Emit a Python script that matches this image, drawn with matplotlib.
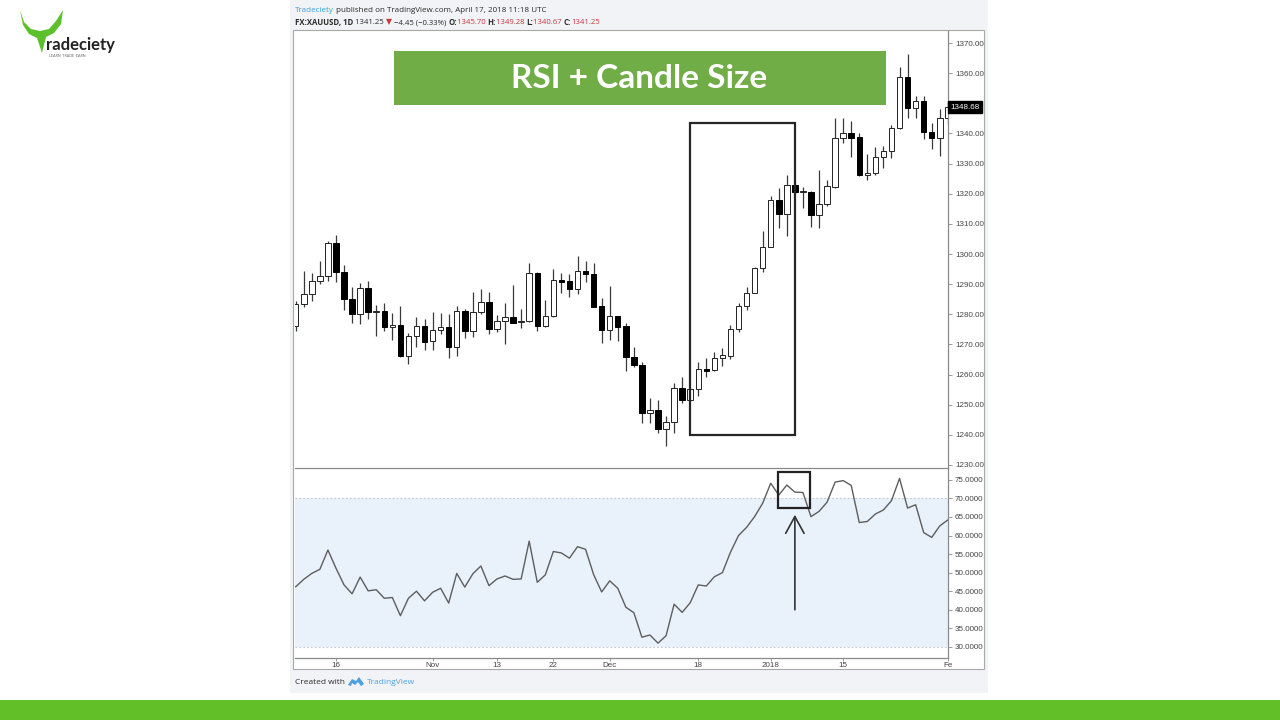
import matplotlib
matplotlib.use("Agg")
import matplotlib.pyplot as plt
from matplotlib.patches import Rectangle, Polygon
import numpy as np

# ---------------- data ----------------
opens = [1276.0, 1283.4, 1286.8, 1290.9, 1292.8, 1303.6, 1294.2, 1285.2, 1280.0, 1288.6,
         1280.6, 1281.1, 1275.8, 1276.5, 1266.0, 1272.9, 1276.2, 1271.2, 1274.8, 1275.9,
         1269.1, 1281.2, 1274.3, 1280.6, 1284.2, 1275.0, 1277.7, 1279.2, 1277.3, 1277.7,
         1293.8, 1276.1, 1279.5, 1291.5, 1291.0, 1288.4, 1294.4, 1293.5, 1282.7, 1274.8,
         1279.4, 1276.1, 1265.8, 1263.2, 1247.1, 1248.3, 1242.0, 1244.2, 1255.4, 1251.6,
         1255.1, 1261.9, 1261.5, 1265.4, 1266.3, 1275.0, 1282.9, 1287.2, 1295.2, 1302.4,
         1317.9, 1313.2, 1322.9, 1320.6, 1320.7, 1312.9, 1316.7, 1322.4, 1338.6, 1340.3,
         1338.7, 1326.2, 1327.0, 1332.1, 1334.2, 1341.7, 1358.8, 1348.3, 1350.9, 1340.4,
         1338.6, 1345.2]
highs = [1284.5, 1294.5, 1293.8, 1297.7, 1304.2, 1306.3, 1296.4, 1289.0, 1290.5, 1291.2,
         1283.1, 1283.7, 1280.3, 1282.6, 1273.9, 1279.0, 1278.4, 1280.9, 1280.3, 1280.1,
         1282.8, 1281.7, 1287.5, 1288.3, 1287.3, 1279.7, 1283.6, 1289.7, 1281.9, 1297.1,
         1294.0, 1284.9, 1295.0, 1293.8, 1293.3, 1299.4, 1297.6, 1296.9, 1285.5, 1289.4,
         1279.6, 1277.0, 1269.2, 1264.3, 1252.1, 1251.4, 1246.3, 1257.1, 1259.1, 1255.4,
         1264.1, 1265.4, 1267.6, 1268.7, 1276.4, 1283.6, 1289.2, 1295.6, 1307.7, 1319.3,
         1321.8, 1326.3, 1323.5, 1322.4, 1320.9, 1328.0, 1324.4, 1345.0, 1345.0, 1344.2,
         1340.0, 1333.2, 1335.4, 1335.8, 1342.8, 1362.2, 1366.4, 1352.5, 1352.4, 1343.4,
         1348.0, 1350.5]
lows = [1274.5, 1282.3, 1284.5, 1290.1, 1290.9, 1290.6, 1281.5, 1277.0, 1276.8, 1278.4,
        1272.8, 1274.3, 1271.5, 1265.8, 1263.4, 1269.1, 1268.0, 1268.2, 1273.5, 1265.4,
        1266.0, 1272.0, 1272.4, 1280.1, 1273.6, 1274.2, 1270.1, 1277.0, 1275.3, 1277.5,
        1274.4, 1275.9, 1279.2, 1287.1, 1285.8, 1286.9, 1290.8, 1282.3, 1270.5, 1271.4,
        1271.2, 1261.3, 1262.4, 1243.8, 1243.8, 1240.5, 1236.4, 1240.5, 1250.7, 1251.3,
        1252.9, 1259.3, 1261.3, 1262.9, 1265.2, 1274.0, 1281.4, 1287.0, 1294.2, 1302.2,
        1308.5, 1306.0, 1320.0, 1315.2, 1309.1, 1308.5, 1316.0, 1321.8, 1336.7, 1332.3,
        1326.0, 1324.5, 1326.2, 1328.7, 1331.7, 1341.4, 1345.0, 1345.0, 1338.0, 1334.7,
        1332.5, 1343.0]
closes = [1283.4, 1286.8, 1290.9, 1292.8, 1303.8, 1294.2, 1285.1, 1280.0, 1288.6, 1280.6,
          1281.2, 1275.7, 1276.5, 1266.0, 1272.8, 1276.1, 1270.9, 1274.8, 1275.9, 1269.1,
          1281.2, 1274.3, 1280.6, 1284.2, 1275.0, 1277.7, 1279.2, 1277.2, 1277.7, 1293.8,
          1276.1, 1279.5, 1291.3, 1290.8, 1288.4, 1294.4, 1293.3, 1282.5, 1274.8, 1279.4,
          1275.9, 1265.8, 1263.2, 1247.1, 1248.3, 1242.0, 1244.2, 1255.4, 1251.6, 1255.1,
          1261.7, 1261.3, 1265.4, 1266.5, 1275.0, 1282.9, 1287.2, 1295.2, 1302.4, 1317.9,
          1313.2, 1322.8, 1320.6, 1320.8, 1312.9, 1316.7, 1322.6, 1338.6, 1340.3, 1338.6,
          1326.2, 1327.0, 1332.1, 1334.2, 1341.7, 1358.8, 1348.3, 1350.9, 1340.4, 1338.6,
          1345.2, 1348.7]
rsi = [46.2, 48.2, 49.8, 50.9, 56.1, 51.2, 46.7, 44.3, 48.8, 45.1,
       45.4, 43.1, 43.3, 38.4, 43.1, 45.0, 42.4, 44.7, 45.8, 41.8,
       49.8, 46.1, 49.7, 51.8, 46.5, 48.3, 49.1, 48.2, 48.3, 58.5,
       47.4, 49.4, 55.7, 55.3, 53.9, 57.0, 56.3, 49.5, 44.8, 47.8,
       45.8, 40.7, 39.2, 32.6, 33.2, 31.0, 33.0, 41.5, 39.3, 41.9,
       46.7, 46.4, 48.9, 50.0, 55.5, 60.0, 62.2, 65.1, 68.7, 74.1,
       70.9, 73.6, 71.7, 71.6, 65.1, 66.5, 69.0, 74.4, 74.8, 73.5,
       63.5, 63.8, 65.8, 66.9, 69.4, 75.4, 67.4, 68.3, 60.8, 59.5,
       62.6, 64.2]
date_tick_pos = [5, 17, 25, 32, 39, 50, 59, 68, 81]
date_tick_labels = ["16", "Nov", "13", "22", "Dec", "18", "2018", "15", "Fe"]
price_ticks = list(range(1230, 1371, 10))
rsi_ticks = [30, 35, 40, 45, 50, 55, 60, 65, 70, 75]
last_price = 1348.68

# ---------------- layout helpers ----------------
W, H = 1280, 720
def fx(px): return px / W
def fy(py): return 1 - py / H

fig = plt.figure(figsize=(12.8, 7.2), dpi=100)
fig.patch.set_facecolor("white")

# outer light panel and white chart box (behind the axes)
fig.patches.append(Rectangle((fx(290), fy(693)), 698 / W, 693 / H, transform=fig.transFigure,
                             facecolor="#f1f3f6", edgecolor="none", zorder=-3))
fig.patches.append(Rectangle((fx(293), fy(669)), 691 / W, 639 / H, transform=fig.transFigure,
                             facecolor="white", edgecolor="#a8a8a8", lw=0.8, zorder=-2))
fig.patches.append(Rectangle((0, 0), 1, 20 / H, transform=fig.transFigure,
                             facecolor="#62bf28", edgecolor="none", zorder=-2))

TICKFONT = ["Liberation Sans", "DejaVu Sans"]
axcol = "#8a8a8a"

ax1 = fig.add_axes([fx(295), fy(468), (948 - 295) / W, (468 - 31) / H])
ax2 = fig.add_axes([fx(295), fy(658), (948 - 295) / W, (658 - 468) / H])
for ax in (ax1, ax2):
    ax.set_facecolor("none")
    ax.set_xlim(-0.09, 81.02)
    for s in ("left", "top"):
        ax.spines[s].set_visible(False)
    for s in ("right", "bottom"):
        ax.spines[s].set_color(axcol)
        ax.spines[s].set_linewidth(0.9)
    ax.yaxis.tick_right()
    ax.tick_params(axis="both", which="both", length=3, width=0.6, color=axcol,
                   labelsize=5.8, labelcolor="#444", pad=2)

# ---------------- candles ----------------
x = np.arange(len(opens))
o = np.array(opens); c = np.array(closes); h = np.array(highs); l = np.array(lows)
up = c >= o
ax1.vlines(x, l, h, color="#3a3a3a", lw=0.9, zorder=2)
bottoms = np.minimum(o, c)
heights = np.maximum(np.abs(c - o), 0.35)
ax1.bar(x[up], heights[up], bottom=bottoms[up], width=0.68, facecolor="white",
        edgecolor="#222222", linewidth=0.7, zorder=3)
ax1.bar(x[~up], heights[~up], bottom=bottoms[~up], width=0.68, facecolor="black",
        edgecolor="black", linewidth=0.7, zorder=3)
ax1.set_ylim(1229, 1374)
ax1.set_yticks(price_ticks)
# the 1350.00 label sits under the last-price marker in the reference
ax1.set_yticklabels(["" if v == 1350 else f"{v:.2f}" for v in price_ticks], family=TICKFONT)
ax1.set_xticks([])
ax1.add_patch(Rectangle((48.98, 1239.9), 62.02 - 48.98, 1343.5 - 1239.9, fill=False,
                        edgecolor="#262626", lw=1.6, zorder=5))
ax1.text(1.003, last_price, f"{last_price:.2f}", transform=ax1.get_yaxis_transform(),
         ha="left", va="center", fontsize=5.8, color="white", family=TICKFONT,
         bbox=dict(boxstyle="square,pad=0.3", facecolor="black", edgecolor="black"),
         clip_on=False, zorder=6)

# ---------------- RSI ----------------
ax2.axhspan(30, 70, facecolor="#e9f1fb", edgecolor="none", zorder=0)
ax2.axhline(30, color="#c4c8cc", lw=0.8, ls=(0, (1.5, 2)), zorder=1)
ax2.axhline(70, color="#c4c8cc", lw=0.8, ls=(0, (1.5, 2)), zorder=1)
ax2.plot(x, rsi, color="#5e5e5e", lw=1.0, zorder=3)
ax2.set_ylim(27.0, 78.2)
ax2.set_yticks(rsi_ticks)
ax2.set_yticklabels([f"{v:.4f}" for v in rsi_ticks], family=TICKFONT)
ax2.set_xticks(date_tick_pos)
ax2.set_xticklabels(date_tick_labels, family=TICKFONT)
ax2.tick_params(axis="x", length=2, pad=1)
ax2.add_patch(Rectangle((59.87, 67.4), 63.88 - 59.87, 77.0 - 67.4, fill=False,
                        edgecolor="#222222", lw=1.6, zorder=5))
ax2.annotate("", xy=(62.0, 65.6), xytext=(62.0, 40.0),
             arrowprops=dict(arrowstyle="->,head_length=0.55,head_width=0.3",
                             color="#333333", lw=1.2, mutation_scale=22,
                             shrinkA=0, shrinkB=0), zorder=6)

# ---------------- title box ----------------
fig.patches.append(Rectangle((fx(394), fy(105)), 492 / W, 54 / H, transform=fig.transFigure,
                             facecolor="#70ad47", edgecolor="none", zorder=3))
fig.text(fx(639), fy(79), "RSI + Candle Size", ha="center", va="center", fontsize=24,
         fontweight="bold", color="white", family=["Lato", "DejaVu Sans"], zorder=4)

# ---------------- header / footer text ----------------
renderer = fig.canvas.get_renderer()
HFONT = ["Open Sans", "DejaVu Sans"]
def seq(x_px, y_px, parts, size=6.0):
    xp = x_px
    for txt, col, wt in parts:
        t = fig.text(fx(xp), fy(y_px), txt, ha="left", va="center", fontsize=size,
                     color=col, fontweight=wt, family=HFONT)
        bb = t.get_window_extent(renderer=renderer)
        xp += bb.width

dark = "#2b2b2b"
red = "#c8373a"
seq(295, 10.5, [("Tradeciety", "#3d9ee3", "normal"),
                (" published on TradingView.com, April 17, 2018 11:18 UTC", dark, "normal")],
    size=5.8)
seq(295, 22.5, [("FX:XAUUSD, 1D", dark, "bold"), (" 1341.25 ", dark, "normal"),
                ("\u25bc", red, "normal"), (" \u22124.45 (\u22120.33%) ", dark, "normal"),
                ("O:", dark, "bold"), ("1345.70 ", red, "normal"),
                ("H:", dark, "bold"), ("1349.28 ", red, "normal"),
                ("L:", dark, "bold"), ("1340.67 ", red, "normal"),
                ("C:", dark, "bold"), ("1341.25", red, "normal")], size=5.6)
seq(295, 682, [("Created with", dark, "normal")])
fig.text(fx(367), fy(682), "TradingView", ha="left", va="center", fontsize=6.0,
         color="#4c9fe0", family=HFONT)
icon = [(348, 685), (352, 679), (356, 681), (359, 677), (364, 684), (361, 686),
        (358, 682), (355, 685), (352, 683), (351, 686)]
fig.patches.append(Polygon([(fx(a), fy(b)) for a, b in icon], closed=True,
                           transform=fig.transFigure, facecolor="#4c9fe0",
                           edgecolor="none"))

# ---------------- logo ----------------
horns = [(20, 10), (24, 22), (31, 29), (40, 31), (49, 29), (56, 21), (63, 10), (61, 24),
         (54, 33), (46, 37), (42, 53), (37, 38), (29, 34), (23, 25)]
fig.patches.append(Polygon([(fx(a), fy(b)) for a, b in horns], closed=True,
                           transform=fig.transFigure, facecolor="#5cc02a",
                           edgecolor="none"))
fig.text(fx(46), fy(50), "radeciety", ha="left", va="baseline", fontsize=12,
         fontweight="bold", color="#222222", family=["Lato", "DejaVu Sans"])
fig.text(fx(49), fy(56), "LEARN  TRADE  EARN", ha="left", va="center", fontsize=2.6,
         color="#666666", family=["Lato", "DejaVu Sans"])

fig.savefig("out.png", dpi=100, facecolor="white")
